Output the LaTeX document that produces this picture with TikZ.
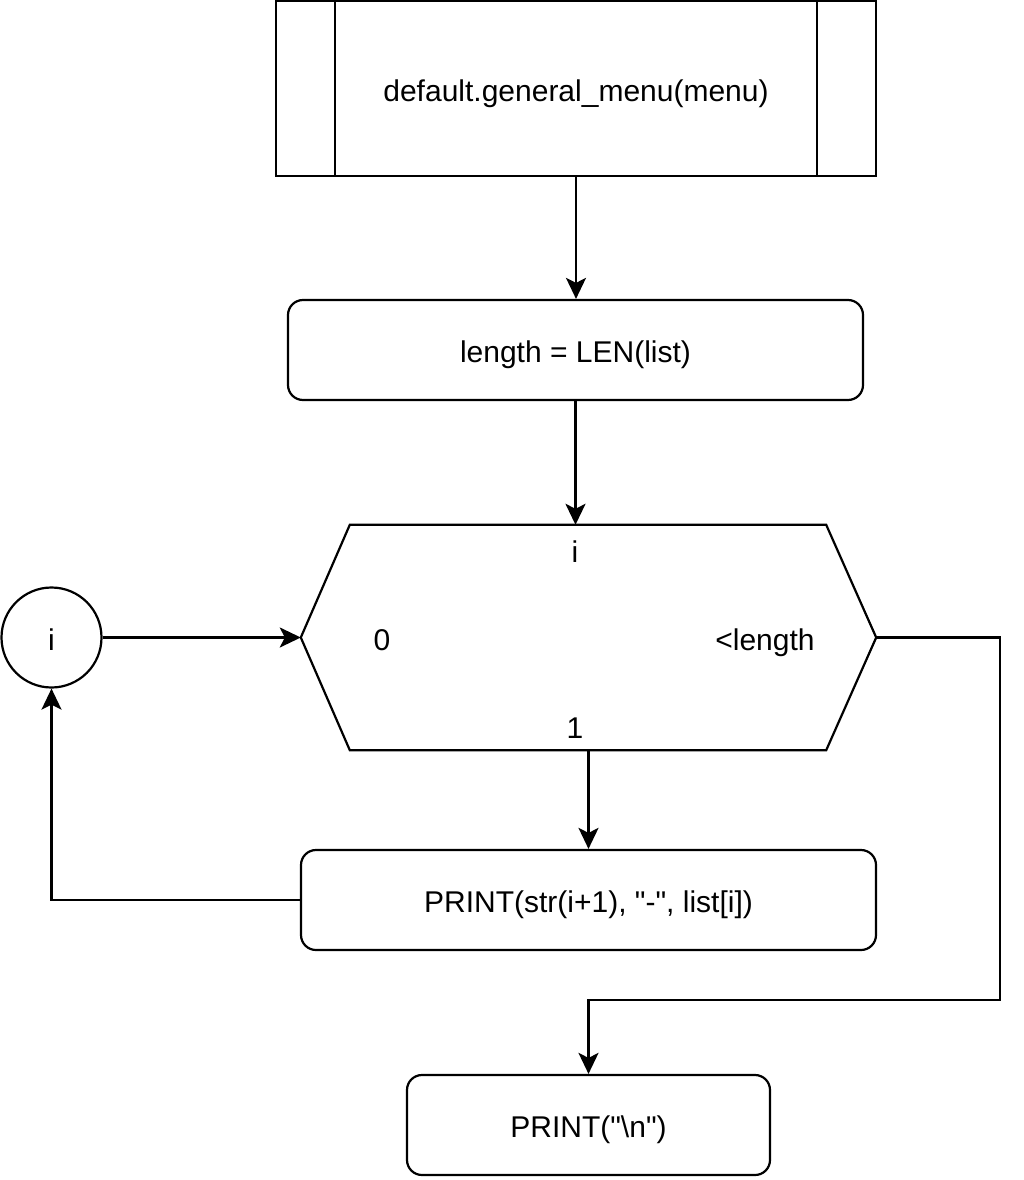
\documentclass[tikz,border=0pt]{standalone}
\usepackage{fontspec}
\setmainfont{Liberation Sans}[Ligatures=TeXOff]
\usetikzlibrary{arrows.meta}
\begin{document}
\begin{tikzpicture}[x=1pt,y=-1pt,
  every node/.style={font=\fontsize{30}{36}\selectfont, inner sep=0pt},
  txt/.style={text height=27pt, text depth=1.6pt},
  box/.style={draw, txt, line width=2.2pt, rounded corners=15pt, minimum width=575pt, minimum height=100pt},
  conn/.style={line width=2.2pt, -{Stealth[length=21pt,width=20pt,inset=5pt]}},
  plainline/.style={line width=2.2pt}
]
\useasboundingbox (0,0) rectangle (1023,1180);

% predefined process
\node[draw, txt, line width=2.2pt, minimum width=600pt, minimum height=175pt] (top) at (576,88.5) {default.general\_menu(menu)};
\draw[plainline] ([xshift=60pt]top.north west) -- ([xshift=60pt]top.south west);
\draw[plainline] ([xshift=-60pt]top.north east) -- ([xshift=-60pt]top.south east);

% length box
\node[box] (len) at (575.5,350) {length = LEN(list)};

% hexagon (loop)
\node[minimum width=575pt, minimum height=225pt] (hex) at (588.5,637.5) {};
\draw[plainline, line join=miter] (hex.west) -- ([xshift=49pt]hex.north west) -- ([xshift=-50pt]hex.north east) -- (hex.east) -- ([xshift=-50pt]hex.south east) -- ([xshift=49pt]hex.south west) -- cycle;
\node[anchor=base] (hi) at (575,562) {i};
\node[anchor=base] (h0) at (382,650) {0};
\node[anchor=base] (hl) at (765,650) {<length};
\node[anchor=base] (h1) at (575,738) {1};

% connector circle
\node[draw, txt, circle, line width=2.2pt, minimum size=100pt] (ci) at (51.5,637.5) {i};

% print boxes
\node[box] (pr) at (588.5,900) {PRINT(str(i+1), "-", list[i])};
\node[box, minimum width=363pt] (nl) at (588.5,1125) {PRINT("\textbackslash n")};

% connectors
\draw[conn] (top.south) -- (top.south |- len.north);
\draw[conn] (len.south) -- (len.south |- hex.north);
\draw[conn] (ci.east) -- (hex.west);
\draw[conn] (hex.south) -- (pr.north);
\draw[conn] (pr.west) -| (ci.south);
\coordinate (rt) at (1000,1000);
\draw[conn] (hex.east) -| (rt) -| (nl.north);
\end{tikzpicture}
\end{document}
